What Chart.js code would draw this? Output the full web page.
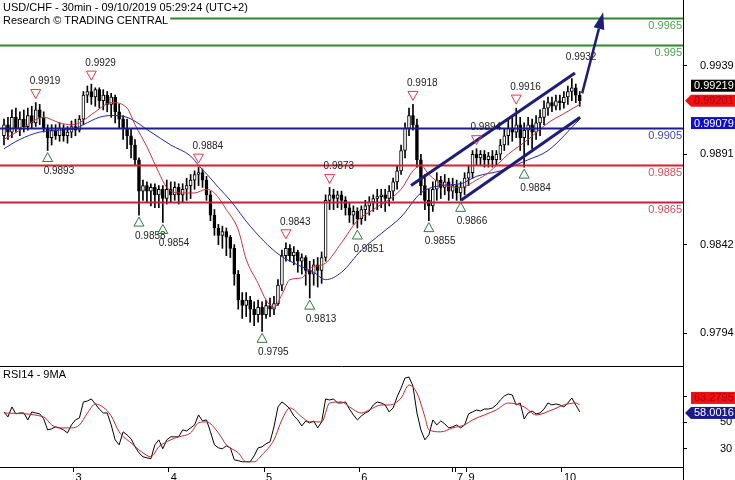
<!DOCTYPE html>
<html>
<head>
<meta charset="utf-8">
<script src="https://cdn.jsdelivr.net/npm/chart.js@4.4.0/dist/chart.umd.min.js"></script>
<style>
  html, body { margin: 0; padding: 0; background: #fff; }
  #wrap { position: relative; width: 735px; height: 480px; overflow: hidden; background: #fff; }
  #mainBox { position: absolute; left: 0; top: 0; width: 735px; height: 366px; }
  #rsiBox { position: absolute; left: 0; top: 366px; width: 735px; height: 114px; }
</style>
</head>
<body>
<div id="wrap">
  <div id="mainBox"><canvas id="priceChart"></canvas></div>
  <div id="rsiBox"><canvas id="rsiChart"></canvas></div>
</div>
<script>
const FONT = "'Liberation Sans', Arial, sans-serif";
const X_MIN = -1, X_MAX = 171;

// ---- hourly USD/CHF candles ----
const opens = [
  0.9901, 0.9907, 0.9903, 0.9911, 0.9905, 0.9910, 0.9906, 0.9912, 0.9908, 0.9915,
  0.9911, 0.9905, 0.9900, 0.9904, 0.9901, 0.9905, 0.9901, 0.9903, 0.9906, 0.9904,
  0.9910, 0.9923, 0.9925, 0.9922, 0.9926, 0.9920, 0.9923, 0.9918, 0.9922, 0.9914,
  0.9910, 0.9905, 0.9901, 0.9896, 0.9888, 0.9871, 0.9874, 0.9871, 0.9873, 0.9869,
  0.9872, 0.9867, 0.9872, 0.9869, 0.9873, 0.9869, 0.9872, 0.9874, 0.9877, 0.9880,
  0.9881, 0.9877, 0.9869, 0.9858, 0.9851, 0.9847, 0.9849, 0.9846, 0.9840, 0.9826,
  0.9812, 0.9809, 0.9812, 0.9807, 0.9804, 0.9808, 0.9804, 0.9809, 0.9807, 0.9810,
  0.9820, 0.9836, 0.9840, 0.9836, 0.9838, 0.9833, 0.9835, 0.9828, 0.9826, 0.9831,
  0.9828, 0.9835, 0.9866, 0.9869, 0.9867, 0.9869, 0.9866, 0.9862, 0.9858, 0.9860,
  0.9856, 0.9861, 0.9863, 0.9865, 0.9867, 0.9868, 0.9869, 0.9867, 0.9871, 0.9876,
  0.9882, 0.9893, 0.9905, 0.9912, 0.9907, 0.9888, 0.9874, 0.9866, 0.9863, 0.9872,
  0.9877, 0.9873, 0.9876, 0.9871, 0.9874, 0.9870, 0.9873, 0.9878, 0.9881, 0.9891,
  0.9889, 0.9891, 0.9888, 0.9890, 0.9888, 0.9891, 0.9896, 0.9901, 0.9905, 0.9903,
  0.9907, 0.9900, 0.9904, 0.9907, 0.9903, 0.9908, 0.9911, 0.9916, 0.9919, 0.9917,
  0.9920, 0.9919, 0.9922, 0.9925, 0.9927, 0.9923
];
const highs = [
  0.9910, 0.9911, 0.9915, 0.9916, 0.9914, 0.9915, 0.9916, 0.9917, 0.9919, 0.9918,
  0.9914, 0.9907, 0.9907, 0.9907, 0.9908, 0.9907, 0.9906, 0.9909, 0.9910, 0.9912,
  0.9925, 0.9928, 0.9929, 0.9927, 0.9927, 0.9926, 0.9925, 0.9924, 0.9923, 0.9918,
  0.9912, 0.9910, 0.9905, 0.9899, 0.9889, 0.9877, 0.9876, 0.9875, 0.9875, 0.9874,
  0.9874, 0.9877, 0.9876, 0.9876, 0.9875, 0.9875, 0.9878, 0.9880, 0.9882, 0.9884,
  0.9883, 0.9879, 0.9871, 0.9861, 0.9853, 0.9852, 0.9851, 0.9847, 0.9842, 0.9828,
  0.9816, 0.9816, 0.9814, 0.9811, 0.9812, 0.9811, 0.9812, 0.9813, 0.9814, 0.9823,
  0.9839, 0.9843, 0.9842, 0.9841, 0.9839, 0.9837, 0.9836, 0.9833, 0.9834, 0.9835,
  0.9838, 0.9869, 0.9873, 0.9872, 0.9871, 0.9871, 0.9868, 0.9865, 0.9863, 0.9862,
  0.9863, 0.9866, 0.9868, 0.9869, 0.9872, 0.9872, 0.9872, 0.9874, 0.9878, 0.9885,
  0.9896, 0.9908, 0.9916, 0.9918, 0.9910, 0.9891, 0.9880, 0.9872, 0.9876, 0.9881,
  0.9879, 0.9880, 0.9878, 0.9878, 0.9877, 0.9876, 0.9881, 0.9885, 0.9893, 0.9894,
  0.9893, 0.9893, 0.9892, 0.9893, 0.9893, 0.9899, 0.9905, 0.9910, 0.9911, 0.9916,
  0.9911, 0.9908, 0.9911, 0.9910, 0.9912, 0.9915, 0.9920, 0.9922, 0.9922, 0.9923,
  0.9923, 0.9925, 0.9928, 0.9932, 0.9929, 0.9925
];
const lows = [
  0.9896, 0.9899, 0.9900, 0.9903, 0.9901, 0.9903, 0.9904, 0.9905, 0.9906, 0.9907,
  0.9903, 0.9893, 0.9896, 0.9899, 0.9898, 0.9898, 0.9897, 0.9900, 0.9901, 0.9903,
  0.9907, 0.9919, 0.9918, 0.9917, 0.9916, 0.9915, 0.9914, 0.9911, 0.9908, 0.9905,
  0.9899, 0.9894, 0.9889, 0.9885, 0.9858, 0.9866, 0.9865, 0.9863, 0.9862, 0.9862,
  0.9854, 0.9864, 0.9865, 0.9866, 0.9864, 0.9865, 0.9866, 0.9867, 0.9872, 0.9874,
  0.9873, 0.9866, 0.9855, 0.9847, 0.9842, 0.9840, 0.9836, 0.9835, 0.9820, 0.9807,
  0.9802, 0.9803, 0.9800, 0.9798, 0.9800, 0.9795, 0.9802, 0.9803, 0.9804, 0.9809,
  0.9817, 0.9833, 0.9833, 0.9831, 0.9827, 0.9826, 0.9820, 0.9813, 0.9820, 0.9819,
  0.9821, 0.9833, 0.9861, 0.9861, 0.9862, 0.9861, 0.9858, 0.9854, 0.9853, 0.9851,
  0.9853, 0.9855, 0.9858, 0.9860, 0.9861, 0.9862, 0.9860, 0.9863, 0.9866, 0.9872,
  0.9880, 0.9889, 0.9901, 0.9904, 0.9884, 0.9869, 0.9861, 0.9855, 0.9860, 0.9866,
  0.9867, 0.9869, 0.9866, 0.9867, 0.9866, 0.9866, 0.9869, 0.9874, 0.9878, 0.9885,
  0.9885, 0.9884, 0.9884, 0.9884, 0.9885, 0.9888, 0.9893, 0.9896, 0.9898, 0.9900,
  0.9893, 0.9884, 0.9896, 0.9894, 0.9899, 0.9901, 0.9907, 0.9912, 0.9914, 0.9915,
  0.9915, 0.9916, 0.9918, 0.9920, 0.9919, 0.9917
];
const closes = [
  0.9907, 0.9903, 0.9911, 0.9905, 0.9910, 0.9906, 0.9912, 0.9908, 0.9915, 0.9911,
  0.9905, 0.9900, 0.9904, 0.9901, 0.9905, 0.9901, 0.9903, 0.9906, 0.9904, 0.9910,
  0.9923, 0.9925, 0.9922, 0.9926, 0.9920, 0.9923, 0.9918, 0.9922, 0.9914, 0.9910,
  0.9905, 0.9901, 0.9896, 0.9888, 0.9871, 0.9874, 0.9871, 0.9873, 0.9869, 0.9872,
  0.9867, 0.9872, 0.9869, 0.9873, 0.9869, 0.9872, 0.9874, 0.9877, 0.9880, 0.9881,
  0.9877, 0.9869, 0.9858, 0.9851, 0.9847, 0.9849, 0.9846, 0.9840, 0.9826, 0.9812,
  0.9809, 0.9812, 0.9807, 0.9804, 0.9808, 0.9804, 0.9809, 0.9807, 0.9810, 0.9820,
  0.9836, 0.9840, 0.9836, 0.9838, 0.9833, 0.9835, 0.9828, 0.9826, 0.9831, 0.9828,
  0.9835, 0.9866, 0.9869, 0.9867, 0.9869, 0.9866, 0.9862, 0.9858, 0.9860, 0.9856,
  0.9861, 0.9863, 0.9865, 0.9867, 0.9868, 0.9869, 0.9867, 0.9871, 0.9876, 0.9882,
  0.9893, 0.9905, 0.9912, 0.9907, 0.9888, 0.9874, 0.9866, 0.9863, 0.9872, 0.9877,
  0.9873, 0.9876, 0.9871, 0.9874, 0.9870, 0.9873, 0.9878, 0.9881, 0.9891, 0.9889,
  0.9891, 0.9888, 0.9890, 0.9888, 0.9891, 0.9896, 0.9901, 0.9905, 0.9903, 0.9907,
  0.9900, 0.9904, 0.9907, 0.9903, 0.9908, 0.9911, 0.9916, 0.9919, 0.9917, 0.9920,
  0.9919, 0.9922, 0.9925, 0.9927, 0.9923, 0.9920
];

// moving averages, sampled along the drawn curves: [candle index, price]
const fastMA = [
  [0, 0.9899], [4, 0.9904], [10, 0.9911], [14, 0.9908], [17, 0.9907], [19, 0.9908],
  [23, 0.9914], [27, 0.9919], [31, 0.9916], [33, 0.9907], [36, 0.9895], [39, 0.9881],
  [41, 0.9873], [44, 0.9870], [48, 0.9870], [51, 0.9872], [53, 0.9870], [56, 0.9861],
  [59, 0.9850], [61, 0.9834], [64, 0.9821], [66, 0.9812], [68, 0.9808], [70, 0.9815],
  [72, 0.9823], [75, 0.9824], [77, 0.9829], [81, 0.9832], [85, 0.9843], [89, 0.9855],
  [93, 0.9861], [100, 0.9872], [103, 0.9882], [105, 0.9885], [107, 0.9880], [111, 0.9874],
  [115, 0.9873], [119, 0.9877], [122, 0.9881], [127, 0.9891], [132, 0.9899], [137, 0.9908],
  [141, 0.9913], [145, 0.9918]
];
const slowMA = [
  [0, 0.9894], [4, 0.9899], [9, 0.9903], [14, 0.9904], [18, 0.9905], [20, 0.9907],
  [24, 0.9911], [27, 0.9912], [31, 0.9911], [37, 0.9903], [42, 0.9896], [47, 0.9890],
  [49, 0.9885], [52, 0.9878], [54, 0.9873], [57, 0.9866], [62, 0.9852], [69, 0.9837],
  [75, 0.9830], [78, 0.9827], [81, 0.9823], [85, 0.9827], [90, 0.9839], [95, 0.9848],
  [100, 0.9857], [105, 0.9870], [110, 0.9874], [115, 0.9875], [119, 0.9879], [125, 0.9882],
  [132, 0.9888], [137, 0.9893], [145, 0.9910]
];

const priceTicks = [0.9939, 0.9891, 0.9842, 0.9794];
const levels = [0.9965, 0.995, 0.9905, 0.9885, 0.9865];
const levelColors = ['#2b8a2b', '#2b8a2b', '#1c1c8e', '#dc1f2e', '#c41f3c'];
const levelTextColors = ['#4f9f4f', '#4f9f4f', '#4848a8', '#d8505c', '#c8505e'];

// pivots: H = high with marker, L = low with marker, T = high label only
const pivotIdx = [8, 11, 22, 34, 40, 49, 65, 71, 77, 82, 89, 103, 107, 115, 119, 129, 131, 143];
const pivotPrice = [0.9919, 0.9893, 0.9929, 0.9858, 0.9854, 0.9884, 0.9795, 0.9843, 0.9813,
                    0.9873, 0.9851, 0.9918, 0.9855, 0.9866, 0.9894, 0.9916, 0.9884, 0.9932];
const pivotKind = ['H', 'L', 'H', 'L', 'L', 'H', 'L', 'H', 'L', 'H', 'L', 'H', 'L', 'L', 'H', 'H', 'L', 'T'];

const channelUpper = [[102.5, 0.9874], [143.8, 0.9935]];
const channelLower = [[115.1, 0.9866], [145.1, 0.9911]];
const arrowPath = [[145.6, 0.9924], [150.9, 0.9968]];

// ---- RSI panel ----
const rsi = [
  58.0, 54.2, 61.8, 56.5, 57.2, 57.2, 51.9, 58.0, 57.2, 56.5,
  52.7, 44.3, 45.1, 46.6, 45.8, 44.3, 42.0, 48.1, 51.9, 53.4,
  65.6, 66.3, 67.9, 64.1, 60.2, 57.2, 57.2, 48.1, 36.7, 32.9,
  42.8, 40.5, 37.5, 31.4, 26.8, 23.8, 23.0, 22.3, 32.9, 36.7,
  29.9, 36.7, 39.0, 39.0, 39.0, 44.3, 43.5, 45.8, 48.1, 55.7,
  51.1, 51.9, 42.8, 32.9, 30.6, 29.9, 32.1, 30.6, 21.5, 20.8,
  20.0, 20.0, 20.0, 24.5, 30.6, 31.4, 33.7, 35.2, 46.6, 61.8,
  65.6, 63.3, 60.2, 54.9, 51.9, 47.3, 51.1, 49.6, 51.1, 45.8,
  50.4, 67.9, 67.1, 67.9, 64.8, 64.8, 65.6, 60.2, 55.7, 51.9,
  54.9, 57.2, 58.7, 63.3, 65.6, 64.8, 63.3, 58.0, 61.0, 69.4,
  76.2, 83.8, 84.6, 77.7, 57.2, 44.3, 36.7, 40.5, 51.9, 48.1,
  51.1, 48.9, 45.8, 46.6, 48.1, 45.8, 48.1, 56.5, 58.0, 59.5,
  58.7, 60.2, 60.2, 61.0, 63.3, 67.1, 70.1, 71.7, 70.9, 63.3,
  64.8, 52.7, 57.2, 58.7, 56.5, 57.2, 60.2, 64.8, 63.3, 64.1,
  63.3, 61.8, 64.8, 68.6, 63.3, 58.0
];
const rsiMA = [
  [0, 57.2], [10, 54.2], [12, 48.1], [14, 45.8], [17, 45.8], [19, 48.0], [21, 57.0],
  [23, 64.0], [25, 61.5], [27, 55.0], [29, 42.8], [32, 34.4], [35, 26.8], [37, 23.8],
  [39, 31.4], [42, 36.7], [44, 39.0], [47, 42.0], [49, 49.6], [51, 50.4], [54, 42.0],
  [56, 32.9], [59, 26.8], [61, 20.0], [63, 20.0], [65, 25.3], [68, 36.7], [70, 51.9],
  [72, 61.0], [75, 54.2], [77, 50.4], [80, 50.4], [82, 64.8], [85, 65.6], [87, 61.8],
  [90, 57.2], [92, 59.5], [95, 63.3], [97, 63.3], [100, 68.6], [102, 78.5], [104, 72.4],
  [106, 54.2], [107, 44.3], [110, 42.8], [113, 45.8], [116, 48.1], [118, 51.9], [121, 55.7],
  [124, 59.5], [127, 64.8], [131, 61.8], [134, 55.7], [138, 59.5], [141, 63.3], [144, 64.8],
  [145, 63.3]
];
const rsiTicks = [30, 50, 70];

const dayTicks = [17.5, 41.5, 65.5, 89.5, 113, 113.6, 116.5, 140.5];
const dayLabels = ['3', '4', '5', '6', '', '7', '9', '10'];

Chart.defaults.font.family = FONT;
Chart.defaults.color = '#000';

// price panel helpers
function drawLevels(ctx, area, yScale) {
    levels.forEach((v, k) => {
        const py = Math.round(yScale.getPixelForValue(v)) + 0.5;
        ctx.strokeStyle = levelColors[k];
        ctx.lineWidth = 2;
        ctx.beginPath();
        ctx.moveTo(area.left, py);
        ctx.lineTo(area.right, py);
        ctx.stroke();
        ctx.fillStyle = levelTextColors[k];
        ctx.font = '11px ' + FONT;
        ctx.textAlign = 'right';
        ctx.textBaseline = 'top';
        ctx.fillText(String(v), area.right - 1, py + 2);
    });
}

function drawSegment(ctx, xs, ys, pts) {
    ctx.beginPath();
    ctx.moveTo(xs.getPixelForValue(pts[0][0]), ys.getPixelForValue(pts[0][1]));
    ctx.lineTo(xs.getPixelForValue(pts[1][0]), ys.getPixelForValue(pts[1][1]));
    ctx.stroke();
}

function drawArrow(ctx, xs, ys) {
    const a = [xs.getPixelForValue(arrowPath[0][0]), ys.getPixelForValue(arrowPath[0][1])];
    const b = [xs.getPixelForValue(arrowPath[1][0]), ys.getPixelForValue(arrowPath[1][1])];
    const ang = Math.atan2(b[1] - a[1], b[0] - a[0]);
    const hl = 17, hw = 5.5;
    const bx = b[0] - hl * Math.cos(ang), by = b[1] - hl * Math.sin(ang);
    ctx.beginPath();
    ctx.moveTo(a[0], a[1]);
    ctx.lineTo(bx, by);
    ctx.stroke();
    ctx.beginPath();
    ctx.moveTo(b[0], b[1]);
    ctx.lineTo(bx + hw * Math.sin(ang), by - hw * Math.cos(ang));
    ctx.lineTo(bx - hw * Math.sin(ang), by + hw * Math.cos(ang));
    ctx.closePath();
    ctx.fill();
}

function drawPivots(ctx, xs, ys) {
    ctx.font = '10px ' + FONT;
    ctx.textBaseline = 'middle';
    ctx.textAlign = 'left';
    pivotIdx.forEach((idx, k) => {
        const px = xs.getPixelForValue(idx);
        const py = ys.getPixelForValue(pivotPrice[k]);
        const kind = pivotKind[k];
        const label = pivotPrice[k].toFixed(4);
        ctx.lineWidth = 1;
        if (kind === 'H') {
            const ty = py - 9;
            ctx.strokeStyle = '#e2384c';
            ctx.beginPath();
            ctx.moveTo(px - 5, ty - 4);
            ctx.lineTo(px + 5, ty - 4);
            ctx.lineTo(px, ty + 5);
            ctx.closePath();
            ctx.stroke();
        } else if (kind === 'L') {
            const ty = py + 7;
            ctx.strokeStyle = '#2f7a3c';
            ctx.beginPath();
            ctx.moveTo(px - 5, ty + 4);
            ctx.lineTo(px + 5, ty + 4);
            ctx.lineTo(px, ty - 5);
            ctx.closePath();
            ctx.stroke();
        }
        ctx.fillStyle = '#222';
        if (kind === 'L') ctx.fillText(label, px - 4, py + 21);
        else ctx.fillText(label, px - 6, py - 21);
    });
}

function valueBox(ctx, left, yc, text, bg, fg, arrow) {
    const x0 = left + 8, h = 12;
    ctx.fillStyle = bg;
    ctx.fillRect(x0, yc - h / 2, 735 - x0, h);
    if (arrow) {
        ctx.beginPath();
        ctx.moveTo(left + 2, yc);
        ctx.lineTo(x0, yc - h / 2);
        ctx.lineTo(x0, yc + h / 2);
        ctx.closePath();
        ctx.fill();
    }
    ctx.fillStyle = fg;
    ctx.font = '11px ' + FONT;
    ctx.textAlign = 'left';
    ctx.textBaseline = 'middle';
    ctx.fillText(text, x0 + 3, yc + 0.5);
}

function titleLine(ctx, text, x, yc) {
    ctx.font = '11px ' + FONT;
    const w = ctx.measureText(text).width;
    ctx.fillStyle = '#fff';
    ctx.fillRect(0, yc - 6.5, x + w + 2, 13);
    ctx.fillStyle = '#000';
    ctx.textAlign = 'left';
    ctx.textBaseline = 'middle';
    ctx.fillText(text, x, yc);
}

const priceOverlay = {
    id: 'priceOverlay',
    afterDatasetsDraw(chart) {
        const {ctx, chartArea, scales: {x, y}} = chart;
        ctx.save();
        drawLevels(ctx, chartArea, y);
        ctx.strokeStyle = '#1e1e78';
        ctx.fillStyle = '#1e1e78';
        ctx.lineWidth = 3;
        drawSegment(ctx, x, y, channelUpper);
        drawSegment(ctx, x, y, channelLower);
        ctx.lineWidth = 2.5;
        drawArrow(ctx, x, y);
        drawPivots(ctx, x, y);
        ctx.restore();
    },
    afterDraw(chart) {
        const {ctx, chartArea, scales: {y}} = chart;
        ctx.save();
        titleLine(ctx, 'USD/CHF - 30min - 09/10/2019 05:29:24 (UTC+2)', 3, 7.5);
        titleLine(ctx, 'Research \u00a9 TRADING CENTRAL', 3, 20.5);
        const lastClose = closes[closes.length - 1];
        const yClose = y.getPixelForValue(lastClose);
        valueBox(ctx, chartArea.right, yClose - 15, '0.99219', '#000', '#fff', false);
        valueBox(ctx, chartArea.right, yClose, '0.99201', '#ee1111', '#b00010', true);
        valueBox(ctx, chartArea.right, y.getPixelForValue(0.99079), '0.99079', '#1010c8', '#fff', false);
        ctx.restore();
    }
};

const rsiOverlay = {
    id: 'rsiOverlay',
    afterDraw(chart) {
        const {ctx, chartArea, scales: {y}} = chart;
        ctx.save();
        ctx.strokeStyle = '#000';
        ctx.lineWidth = 1;
        ctx.beginPath();
        ctx.moveTo(chartArea.left, 0.5);
        ctx.lineTo(chartArea.right, 0.5);
        ctx.moveTo(chartArea.right + 0.5, chartArea.bottom);
        ctx.lineTo(chartArea.right + 0.5, chart.height);
        ctx.stroke();
        ctx.fillStyle = '#000';
        ctx.font = '11px ' + FONT;
        ctx.textAlign = 'left';
        ctx.textBaseline = 'middle';
        ctx.fillText('RSI14 - 9MA', 3, 9);
        const yLast = y.getPixelForValue(rsi[rsi.length - 1]);
        valueBox(ctx, chartArea.right, yLast - 14, '63.2795', '#ee1111', '#b00010', false);
        valueBox(ctx, chartArea.right, yLast + 1, '58.0016', '#1a1a8a', '#fff', true);
        ctx.restore();
    }
};

// ---- price chart ----
new Chart(document.getElementById('priceChart'), {
    type: 'bar',
    data: {
        datasets: [
            {
                type: 'line',
                data: fastMA.map(([i, v]) => ({x: i, y: v})),
                borderColor: '#c8323c',
                borderWidth: 1,
                pointRadius: 0,
                cubicInterpolationMode: 'monotone',
                order: 0
            },
            {
                type: 'line',
                data: slowMA.map(([i, v]) => ({x: i, y: v})),
                borderColor: '#2626a6',
                borderWidth: 1,
                pointRadius: 0,
                cubicInterpolationMode: 'monotone',
                order: 0
            },
            {
                // candle bodies
                data: opens.map((o, i) => ({x: i, y: [o, closes[i]]})),
                backgroundColor: opens.map((o, i) => closes[i] >= o ? '#ffffff' : '#000000'),
                borderColor: '#000',
                borderWidth: 1,
                borderSkipped: false,
                barThickness: 3,
                minBarLength: 1,
                grouped: false,
                order: 1
            },
            {
                // wicks
                data: lows.map((l, i) => ({x: i, y: [l, highs[i]]})),
                backgroundColor: '#000',
                barThickness: 1,
                grouped: false,
                order: 2
            }
        ]
    },
    options: {
        responsive: true,
        maintainAspectRatio: false,
        animation: false,
        layout: { padding: 0 },
        plugins: { legend: { display: false }, tooltip: { enabled: false } },
        scales: {
            x: {
                type: 'linear',
                min: X_MIN,
                max: X_MAX,
                offset: false,
                display: false,
                grid: { offset: false }
            },
            y: {
                position: 'right',
                min: 0.97762,
                max: 0.99746,
                afterBuildTicks: s => { s.ticks = priceTicks.map(v => ({value: v})); },
                afterFit: s => { s.width = 52; s.paddingTop = 0; s.paddingBottom = 0; },
                ticks: {
                    callback: v => Number(v).toFixed(4),
                    font: { size: 11 },
                    color: '#000',
                    padding: 13
                },
                grid: { drawOnChartArea: false, tickLength: 4, color: '#000' },
                border: { color: '#000' }
            }
        }
    },
    plugins: [priceOverlay]
});

// ---- RSI chart ----
new Chart(document.getElementById('rsiChart'), {
    type: 'line',
    data: {
        datasets: [
            {
                data: rsiMA.map(([i, v]) => ({x: i, y: v})),
                borderColor: '#c0282e',
                borderWidth: 1,
                pointRadius: 0,
                cubicInterpolationMode: 'monotone',
                order: 0
            },
            {
                data: rsi.map((v, i) => ({x: i, y: v})),
                borderColor: '#000',
                borderWidth: 1,
                pointRadius: 0,
                tension: 0,
                order: 1
            }
        ]
    },
    options: {
        responsive: true,
        maintainAspectRatio: false,
        animation: false,
        layout: { padding: 0 },
        plugins: { legend: { display: false }, tooltip: { enabled: false } },
        scales: {
            x: {
                type: 'linear',
                min: X_MIN,
                max: X_MAX,
                offset: false,
                afterBuildTicks: s => { s.ticks = dayTicks.map(v => ({value: v})); },
                afterFit: s => { s.height = 13; s.paddingLeft = 0; s.paddingRight = 0; },
                ticks: {
                    callback: (v, idx) => dayLabels[idx],
                    autoSkip: false,
                    maxRotation: 0,
                    align: 'start',
                    labelOffset: 2,
                    padding: -1,
                    font: { size: 11 },
                    color: '#000'
                },
                grid: { drawOnChartArea: false, tickLength: 5, color: '#000' },
                border: { color: '#000' }
            },
            y: {
                position: 'right',
                min: 16,
                max: 93,
                afterBuildTicks: s => { s.ticks = rsiTicks.map(v => ({value: v})); },
                afterFit: s => { s.width = 52; s.paddingTop = 0; s.paddingBottom = 0; },
                // the 70 label sits under the MA value box
                ticks: { callback: v => (v === 70 ? '' : v), font: { size: 11 }, color: '#000', padding: 33 },
                grid: { drawOnChartArea: false, tickLength: 4, color: '#000' },
                border: { color: '#000' }
            }
        }
    },
    plugins: [rsiOverlay]
});
</script>
</body>
</html>
